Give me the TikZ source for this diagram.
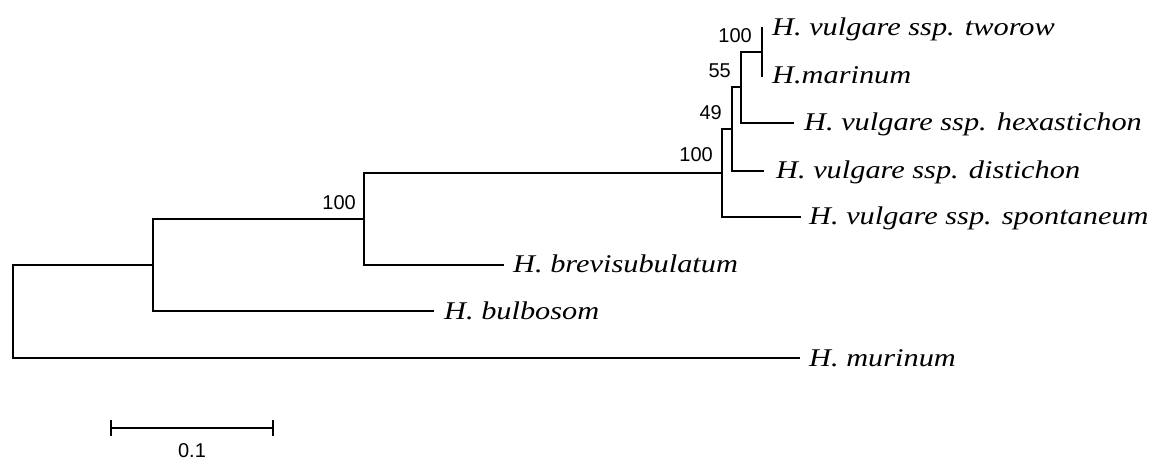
\documentclass[tikz,border=0pt]{standalone}
\usepackage{fontspec}
\setmainfont{Liberation Serif}
\newfontfamily\taxfont[FakeStretch=1.19]{Liberation Serif}
\newfontfamily\bootfont{Liberation Sans}
\begin{document}
\begin{tikzpicture}[x=1pt,y=-1pt,
  branch/.style={line width=1.6pt, line cap=rect},
  taxon/.style={anchor=base west, inner sep=0pt, font=\taxfont\itshape\fontsize{25.5}{28}\selectfont},
  boot/.style={anchor=base east, inner sep=0pt, font=\bootfont\fontsize{20}{22}\selectfont},
  scalelabel/.style={anchor=base, inner sep=0pt, font=\bootfont\fontsize{20}{22}\selectfont}]
\useasboundingbox (0,0) rectangle (1158,459);

% internal nodes
\coordinate (root) at (13,312);
\coordinate (n1) at (153,265);
\coordinate (n2) at (364,219);
\coordinate (n3) at (722,173);
\coordinate (n4) at (732,129);
\coordinate (n5) at (741,87);
\coordinate (n6) at (762,52);

% leaf tips
\coordinate (ltw) at (762,28);
\coordinate (lma) at (762,76);
\coordinate (lhx) at (793,123);
\coordinate (lds) at (763,171);
\coordinate (lsp) at (800,217);
\coordinate (lbr) at (503,265);
\coordinate (lbu) at (433,311);
\coordinate (lmu) at (799,358);

% branches
\draw[branch] (ltw) -| (n6) |- (lma);
\draw[branch] (n6) -| (n5) |- (lhx);
\draw[branch] (n5) -| (n4) |- (lds);
\draw[branch] (n4) -| (n3) |- (lsp);
\draw[branch] (n3) -| (n2) |- (lbr);
\draw[branch] (n2) -| (n1) |- (lbu);
\draw[branch] (n1) -| (root) |- (lmu);

% taxon names
\node[taxon] (ttw) at ([xshift=10pt,yshift=-7.5pt]ltw) {H. vulgare ssp. tworow};
\node[taxon] (tma) at ([xshift=10pt,yshift=-7.5pt]lma) {H.marinum};
\node[taxon] (thx) at ([xshift=11pt,yshift=-7pt]lhx) {H. vulgare ssp. hexastichon};
\node[taxon] (tds) at ([xshift=13pt,yshift=-7.5pt]lds) {H. vulgare ssp. distichon};
\node[taxon] (tsp) at ([xshift=9pt,yshift=-7.5pt]lsp) {H. vulgare ssp. spontaneum};
\node[taxon] (tbr) at ([xshift=10pt,yshift=-7.5pt]lbr) {H. brevisubulatum};
\node[taxon] (tbu) at ([xshift=11pt,yshift=-8pt]lbu) {H. bulbosom};
\node[taxon] (tmu) at ([xshift=10pt,yshift=-8pt]lmu) {H. murinum};

% bootstrap values
\node[boot] (b6) at ([xshift=-10pt,yshift=10pt]n6) {100};
\node[boot] (b5) at ([xshift=-10pt,yshift=10pt]n5) {55};
\node[boot] (b4) at ([xshift=-10pt,yshift=10pt]n4) {49};
\node[boot] (b3) at ([xshift=-9pt,yshift=12pt]n3) {100};
\node[boot] (b2) at ([xshift=-8pt,yshift=10pt]n2) {100};

% scale bar
\coordinate (sb1) at (111,428);
\coordinate (sb2) at (273,428);
\draw[line width=1.6pt] (sb1) -- (sb2);
\draw[line width=1.6pt] ([yshift=8pt]sb1) -- ([yshift=-8pt]sb1);
\draw[line width=1.6pt] ([yshift=8pt]sb2) -- ([yshift=-8pt]sb2);
\node[scalelabel] (sbl) at (192,457) {0.1};
\end{tikzpicture}
\end{document}
